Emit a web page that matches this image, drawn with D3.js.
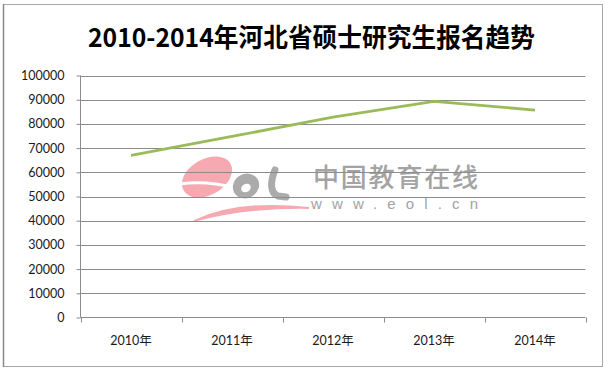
<!DOCTYPE html>
<html><head><meta charset="utf-8">
<script src="https://cdn.jsdelivr.net/npm/d3@7"></script>
<style>
html,body{margin:0;padding:0;background:#fff;}
svg{display:block;}
</style></head>
<body>
<svg id="c" width="610" height="371"></svg>
<script>
const title = "2010-2014年河北省硕士研究生报名趋势";
const categories = ["2010年","2011年","2012年","2013年","2014年"];
const values = [67000, 74800, 82800, 89300, 85700];
const yTicks = [0,10000,20000,30000,40000,50000,60000,70000,80000,90000,100000];

const svg = d3.select("#c");
const W = 610, H = 371;
const m = {left: 80.5, right: 585.5, top: 75.5, bottom: 317.5};

svg.append("rect").attr("width", W).attr("height", H).attr("fill", "#fff");
// frame
svg.append("rect").attr("x", 3.5).attr("y", 4.5).attr("width", 599).attr("height", 362)
  .attr("fill", "#fff").attr("stroke", "#a6a6a6").attr("stroke-width", 1);
svg.append("line").attr("x1", 3.5).attr("x2", 3.5).attr("y1", 4).attr("y2", 367)
  .attr("stroke", "#8a8a8a").attr("stroke-width", 1.5);

// title
svg.append("text").attr("x", 88).attr("y", 47).attr("textLength", 447)
  .attr("lengthAdjust", "spacingAndGlyphs")
  .attr("font-family", "'Noto Sans CJK SC', sans-serif").attr("font-weight", "bold")
  .attr("font-size", 26).attr("fill", "#000").text(title);

const x = d3.scaleBand().domain(categories).range([m.left, m.right]);
const y = d3.scaleLinear().domain([0, 100000]).range([m.bottom, m.top]);

// watermark (drawn under the gridlines)
const wm = svg.append("g");
const pink = "#f6a9b0", gray = "#ababab";
wm.append("ellipse").attr("cx", 207).attr("cy", 177).attr("rx", 27).attr("ry", 18)
  .attr("transform", "rotate(-30,207,177)").attr("fill", pink);
wm.append("path").attr("d", "M180,184 Q205,180 236,188")
  .attr("fill", "none").attr("stroke", "#fff").attr("stroke-width", 3);
wm.append("path").attr("d", "M194,221 Q238,200 309,208 Q245,207 194,221 Z")
  .attr("fill", pink).attr("stroke", pink).attr("stroke-width", 1.8);
wm.append("ellipse").attr("cx", 246).attr("cy", 186).attr("rx", 13.5).attr("ry", 12)
  .attr("transform", "rotate(-30,246,186)").attr("fill", gray);
wm.append("ellipse").attr("cx", 246).attr("cy", 188).attr("rx", 5).attr("ry", 4)
  .attr("transform", "rotate(-30,246,188)").attr("fill", "#fff");
wm.append("path").attr("d", "M275,170 C270,182 270,193 278,196 L286,197")
  .attr("fill", "none").attr("stroke", gray).attr("stroke-width", 7).attr("stroke-linecap", "round");
wm.append("text").attr("x", 313).attr("y", 187).attr("textLength", 165)
  .attr("font-family", "'Noto Sans CJK SC', sans-serif").attr("font-size", 26).attr("font-weight", 500)
  .attr("fill", "#a3a3a3").text("中国教育在线");
wm.append("text").attr("x", 311).attr("y", 209).attr("textLength", 167)
  .attr("font-family", "'Liberation Sans', sans-serif").attr("font-size", 15)
  .attr("fill", "#a3a3a3").text("www.eol.cn");

// gridlines
svg.append("g").selectAll("line").data(yTicks.filter(d => d > 0)).join("line")
  .attr("x1", m.left).attr("x2", m.right)
  .attr("y1", d => Math.round(y(d)) + 0.5).attr("y2", d => Math.round(y(d)) + 0.5)
  .attr("stroke", "#8c8c8c").attr("stroke-width", 1);

// y axis
const yAxis = d3.axisLeft(y).tickValues(yTicks).tickSize(4).tickPadding(12).tickFormat(d3.format("d"));
const gy = svg.append("g").attr("transform", `translate(${m.left},0)`).call(yAxis);
gy.select(".domain").attr("stroke", "#8c8c8c").attr("d", `M0,${m.bottom}V${m.top}`);
gy.selectAll(".tick line").attr("stroke", "#8c8c8c");
gy.selectAll(".tick text").attr("font-family", "Lato, 'Noto Sans CJK SC', sans-serif")
  .attr("font-size", 12.5).attr("fill", "#1a1a1a");

// x axis
const gx = svg.append("g").attr("transform", `translate(0,${m.bottom})`)
  .call(d3.axisBottom(x).tickSize(0).tickPadding(19));
gx.select(".domain").attr("stroke", "#8c8c8c").attr("d", `M${m.left},0H${m.right}`);
gx.selectAll(".tick text").attr("font-family", "Lato, 'Noto Sans CJK SC', sans-serif")
  .attr("font-size", 12.5).attr("fill", "#1a1a1a");
const bounds = categories.map(c => x(c)).concat([x(categories[categories.length-1]) + x.bandwidth()]);
gx.append("g").selectAll("line").data(bounds).join("line")
  .attr("x1", d => Math.round(d) + 0.5).attr("x2", d => Math.round(d) + 0.5)
  .attr("y1", 0).attr("y2", 5).attr("stroke", "#8c8c8c");

// line
const line = d3.line().x((d, i) => x(categories[i]) + x.bandwidth() / 2).y(d => y(d));
svg.append("path").datum(values).attr("d", line)
  .attr("fill", "none").attr("stroke", "#9bbb59").attr("stroke-width", 2.8)
  .attr("stroke-linejoin", "round");
</script>
</body></html>
